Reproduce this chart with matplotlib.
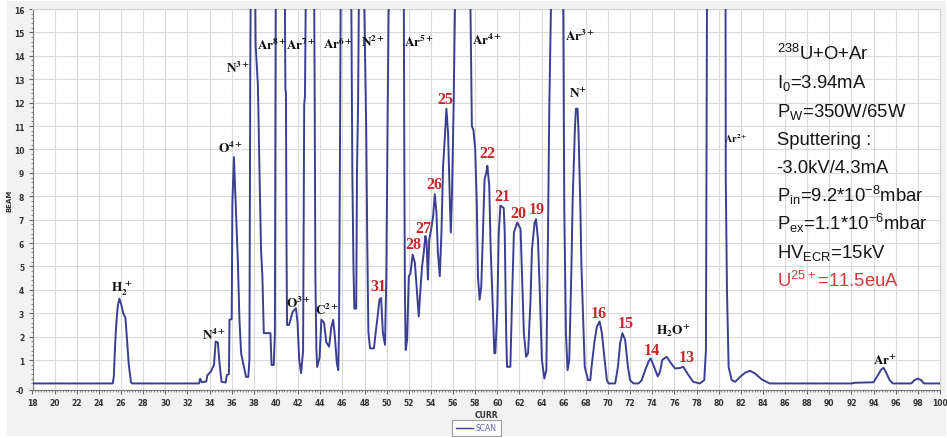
import matplotlib
matplotlib.use('Agg')
import matplotlib.pyplot as plt
from matplotlib.patches import Rectangle
from matplotlib.lines import Line2D

plt.rcParams['mathtext.fontset'] = 'custom'
plt.rcParams['mathtext.rm'] = 'Liberation Sans'
plt.rcParams['mathtext.it'] = 'Liberation Sans:italic'
plt.rcParams['mathtext.bf'] = 'Liberation Sans:bold'

# ---------------- data ----------------
# off-scale peaks are given as 17 (above the 16 axis limit)
curr = [18.0, 25.25, 25.35, 25.45, 25.55, 25.7, 25.85, 26.0, 26.2, 26.4, 26.55, 26.7, 26.9, 27.0,
        33.05, 33.15, 33.3, 33.7, 33.8, 34.1, 34.4, 34.55, 34.75, 34.9, 35.08, 35.45, 35.56, 35.75,
        35.8, 36.0, 36.06, 36.2, 36.3, 36.4, 36.55, 36.7, 36.85, 37.1, 37.3, 37.5, 37.6, 37.68, 37.72,
        38.12, 38.16, 38.37, 38.5, 38.65, 38.77, 38.9, 39.5, 39.6, 39.8, 39.9, 39.98,
        40.8, 40.85, 40.9, 40.95, 41.0, 41.18, 41.5, 41.8, 41.95, 42.1, 42.27, 42.45, 42.55, 42.62, 42.7,
        43.45, 43.5, 43.56, 43.65, 43.72, 43.94, 44.1, 44.34, 44.55, 44.8, 45.0, 45.17, 45.33, 45.5,
        45.63, 45.7, 45.78, 45.85,
        46.8, 46.9, 47.0, 47.08, 47.25, 47.32, 47.42, 47.5,
        47.95, 48.05, 48.15, 48.25, 48.35, 48.5, 48.85, 49.0, 49.15, 49.35, 49.5, 49.66, 49.85, 49.97,
        50.1, 50.2,
        51.55, 51.6, 51.65, 51.72, 51.85, 52.0, 52.15, 52.35, 52.55, 52.75, 52.9, 53.05, 53.2, 53.35,
        53.5, 53.6, 53.73, 53.85, 54.03, 54.2, 54.35, 54.5, 54.63, 54.8, 54.95, 55.1, 55.25, 55.4,
        55.55, 55.7, 55.8, 55.9, 56.05, 56.2,
        57.55, 57.7, 57.85, 58.0, 58.15, 58.25, 58.4, 58.55, 58.7, 58.85, 59.0, 59.1, 59.27, 59.4,
        59.6, 59.73, 59.82, 60.0, 60.13, 60.28, 60.58, 60.67, 60.8, 60.88, 61.18, 61.33, 61.5, 61.8,
        62.1, 62.25, 62.4, 62.6, 62.78, 63.0, 63.13, 63.37, 63.5, 63.67, 63.82, 64.03, 64.25, 64.43,
        64.58, 64.7, 64.88,
        65.95, 66.05, 66.2, 66.35, 66.5, 66.7, 66.8, 67.0, 67.1, 67.25, 67.34, 67.5, 67.6, 67.8,
        67.9, 68.2, 68.4, 68.55, 68.8, 69.0, 69.24, 69.45, 69.7, 69.9, 70.05, 70.65, 70.9, 71.1,
        71.3, 71.55, 71.8, 72.0, 72.3, 72.76, 73.05, 73.36, 73.66, 73.85, 74.1, 74.5, 74.7, 74.9,
        75.3, 75.7, 76.06, 76.5, 76.8, 77.27, 77.7, 78.3, 78.7, 78.85, 78.95,
        80.62, 80.64, 80.75, 80.9, 81.18, 81.5, 81.93, 82.4, 82.83, 83.28, 83.9, 84.6, 92.0, 92.3,
        94.0, 94.4, 94.7, 94.9, 95.1, 95.45, 95.75, 97.4, 97.7, 98.0, 98.3, 98.55, 100.0]

beam = [0.0, 0.0, 0.3, 1.5, 2.4, 3.3, 3.62, 3.4, 3.0, 2.8, 1.8, 0.8, 0.05, 0.0,
        0.0, 0.2, 0.05, 0.08, 0.35, 0.5, 0.79, 1.79, 1.75, 0.86, 0.07, 0.04, 0.36, 0.4,
        2.72, 2.75, 7.73, 9.67, 8.45, 7.3, 5.3, 2.72, 1.29, 0.71, 0.28, 0.28, 1.0, 13.6, 17,
        17, 14.5, 12.7, 9.3, 5.7, 4.6, 2.15, 2.15, 0.79, 0.79, 2.15, 17,
        17, 12.6, 12.4, 6.0, 2.5, 2.5, 3.05, 3.22, 2.6, 1.0, 0.44, 1.4, 11.9, 12.3, 17,
        17, 12.0, 4.6, 1.5, 0.71, 1.1, 2.72, 2.6, 1.76, 1.57, 2.4, 2.72, 1.97, 0.86,
        0.57, 2.4, 9.6, 17,
        17, 9.0, 5.0, 3.2, 3.2, 9.0, 12.0, 17,
        17, 14.0, 11.0, 6.0, 2.2, 1.5, 1.5, 2.15, 2.72, 3.58, 3.65, 2.15, 1.65, 4.6,
        12.0, 17,
        17, 9.0, 4.0, 1.43, 1.86, 4.58, 4.7, 5.51, 5.16, 3.87, 2.86, 4.0, 5.0, 5.58,
        6.3, 6.1, 4.44, 6.15, 6.6, 7.16, 8.09, 7.3, 5.6, 4.58, 6.4, 9.3, 10.45, 11.74,
        10.7, 8.0, 6.45, 8.0, 11.8, 17,
        17, 11.0, 10.8, 10.0, 7.6, 4.58, 3.58, 4.15, 6.45, 8.73, 9.0, 9.3, 8.45, 5.73,
        3.15, 1.29, 1.29, 3.15, 6.45, 7.6, 7.5, 6.45, 2.15, 0.71, 0.71, 3.58, 6.45, 6.88,
        6.6, 4.3, 2.15, 1.14, 1.29, 3.58, 5.73, 6.88, 7.02, 6.16, 4.16, 1.0, 0.21, 0.57,
        6.45, 11.9, 17,
        17, 7.5, 2.15, 0.57, 1.0, 5.0, 7.7, 10.74, 11.74, 11.74, 10.74, 7.6, 5.0, 2.15,
        0.71, 0.14, 0.14, 0.86, 1.86, 2.43, 2.65, 2.15, 1.0, 0.14, 0.0, 0.0, 0.71, 1.72,
        2.15, 1.86, 0.71, 0.14, 0.0, 0.0, 0.14, 0.57, 0.93, 1.07, 0.79, 0.3, 0.5, 1.0,
        1.14, 0.86, 0.64, 0.66, 0.71, 0.36, 0.07, 0.0, 0.14, 1.43, 17,
        17, 8.9, 4.0, 0.7, 0.14, 0.07, 0.28, 0.46, 0.54, 0.43, 0.17, 0.0, 0.0, 0.03,
        0.05, 0.36, 0.6, 0.67, 0.5, 0.14, 0.0, 0.0, 0.14, 0.21, 0.14, 0.0, 0.0]

x_ticks = list(range(18, 101, 2))
x_tick_labels = [str(v) for v in x_ticks]
y_ticks = [-0.28] + list(range(1, 17))
y_tick_labels = ['-0'] + [str(v) for v in range(1, 17)]

# peak labels (black, serif, mathtext)
ion_labels = [r'$\mathbf{H_2^{\;+}}$', r'$\mathbf{N^{4+}}$', r'$\mathbf{O^{4+}}$', r'$\mathbf{N^{3+}}$',
              r'$\mathbf{Ar^{8+}}$', r'$\mathbf{Ar^{7+}}$', r'$\mathbf{Ar^{6+}}$', r'$\mathbf{N^{2+}}$',
              r'$\mathbf{Ar^{5+}}$', r'$\mathbf{Ar^{4+}}$', r'$\mathbf{Ar^{3+}}$', r'$\mathbf{N^{+}}$',
              r'$\mathbf{O^{3+}}$', r'$\mathbf{C^{2+}}$', r'$\mathbf{H_2O^{+}}$', r'$\mathbf{Ar^{+}}$']
ion_x = [26.1, 34.4, 35.9, 36.6, 39.6, 42.3, 45.6, 48.8, 52.9, 59.1, 67.5, 67.3, 42.0, 44.6, 75.9, 95.0]
ion_y = [4.1, 2.1, 10.1, 13.5, 14.5, 14.5, 14.55, 14.6, 14.6, 14.7, 14.85, 12.4, 3.45, 3.15, 2.3, 1.0]

ar2_label = r'$\mathbf{Ar^{2+}}$'
ar2_x, ar2_y = 81.6, 10.5

# charge states of U (red numbers)
u_labels = ['31', '28', '27', '26', '25', '22', '21', '20', '19', '16', '15', '14', '13']
u_x = [49.25, 52.45, 53.36, 54.27, 55.3, 59.07, 60.43, 61.93, 63.58, 69.15, 71.56, 73.96, 77.1]
u_y = [4.15, 5.94, 6.66, 8.52, 12.17, 9.85, 8.0, 7.3, 7.45, 3.0, 2.58, 1.43, 1.14]

info_lines = [r'$^{238}$U+O+Ar', r'I$_{0}$=3.94mA', r'P$_{\mathrm{W}}$=350W/65W', 'Sputtering :',
              '-3.0kV/4.3mA', r'P$_{\mathrm{in}}$=9.2*10$^{-8}$mbar', r'P$_{\mathrm{ex}}$=1.1*10$^{-6}$mbar',
              r'HV$_{\mathrm{ECR}}$=15kV', r'U$^{25+}$=11.5euA']
info_colors = ['#151515'] * 8 + ['#d33a3a']

# ---------------- figure ----------------
W, H = 947, 439
fig = plt.figure(figsize=(W / 100, H / 100), dpi=100)
fig.patch.set_facecolor('white')
fig.patches.append(Rectangle((7 / W, 2 / H), 939 / W, 435 / H, transform=fig.transFigure,
                             facecolor='#f2f2f2', edgecolor='none', zorder=-10))

ax_l, ax_r, ax_t, ax_b = 32.5, 940, 10, 391
ax = fig.add_axes([ax_l / W, 1 - ax_b / H, (ax_r - ax_l) / W, (ax_b - ax_t) / H])
ax.set_facecolor('white')

line_color = '#3b3f92'
ax.plot(curr, beam, color=line_color, lw=1.4, zorder=3, solid_joinstyle='round')

ax.set_xlim(18, 100)
ax.set_ylim(-0.28, 16)
ax.set_xticks(x_ticks)
ax.set_xticklabels(x_tick_labels)
ax.set_yticks(y_ticks)
ax.set_yticklabels(y_tick_labels)
ax.set_xticks([18 + 0.25 * i for i in range(329)], minor=True)
ax.set_yticks([0.2 * i for i in range(0, 81)], minor=True)
ax.grid(True, which='major', color='#dadada', lw=0.8, zorder=0)
ax.tick_params(which='major', direction='out', length=3, width=0.8, color='#666666',
               labelsize=5.5, labelcolor='#333333', pad=3)
ax.tick_params(which='minor', direction='out', length=1.6, width=0.6, color='#777777')
for lab in ax.get_xticklabels() + ax.get_yticklabels():
    lab.set_fontweight('bold')
for s in ['left', 'bottom']:
    ax.spines[s].set_color('#777777')
    ax.spines[s].set_linewidth(0.8)
for s in ['top', 'right']:
    ax.spines[s].set_color('#d0d0d0')
    ax.spines[s].set_linewidth(0.8)

ax.set_xlabel('CURR', fontsize=5.5, color='#333333', fontweight='bold', labelpad=2)
ax.set_ylabel('BEAM', fontsize=5, color='#333333', fontweight='bold')
ax.yaxis.set_label_coords((12 - ax_l) / (ax_r - ax_l), 0.5)

# ion labels
for t, x, y in zip(ion_labels, ion_x, ion_y):
    ax.text(x, y, t, fontsize=9.5, color='#111111', ha='center', va='center',
            math_fontfamily='stix', zorder=5)
ax.text(ar2_x, ar2_y, ar2_label, fontsize=7.5, color='#111111', ha='center', va='center',
        math_fontfamily='stix', zorder=5)

for t, x, y in zip(u_labels, u_x, u_y):
    ax.text(x, y, t, fontsize=11.5, color='#c4282d', ha='center', va='center',
            family='Liberation Serif', fontweight='bold', zorder=5)

# info block
base0, step = 60, 28.33
for i, (t, c) in enumerate(zip(info_lines, info_colors)):
    fig.text(776.5 / W, 1 - (base0 + i * step) / H, t, fontsize=13.3, color=c,
             family='Liberation Sans', ha='left', va='baseline', math_fontfamily='custom')

# legend
handle = Line2D([0], [0], color=line_color, lw=1.0)
leg = fig.legend([handle], ['SCAN'], loc='center', bbox_to_anchor=(476.5 / W, 1 - 429 / H),
                 fontsize=5.5, frameon=True, fancybox=False, handlelength=2.2, handletextpad=0.4,
                 borderpad=0.5, borderaxespad=0)
leg.get_frame().set_edgecolor('#888888')
leg.get_frame().set_linewidth(0.8)
leg.get_frame().set_facecolor('white')
for txt in leg.get_texts():
    txt.set_color('#5a66a8')

fig.savefig('out.png', dpi=100)
